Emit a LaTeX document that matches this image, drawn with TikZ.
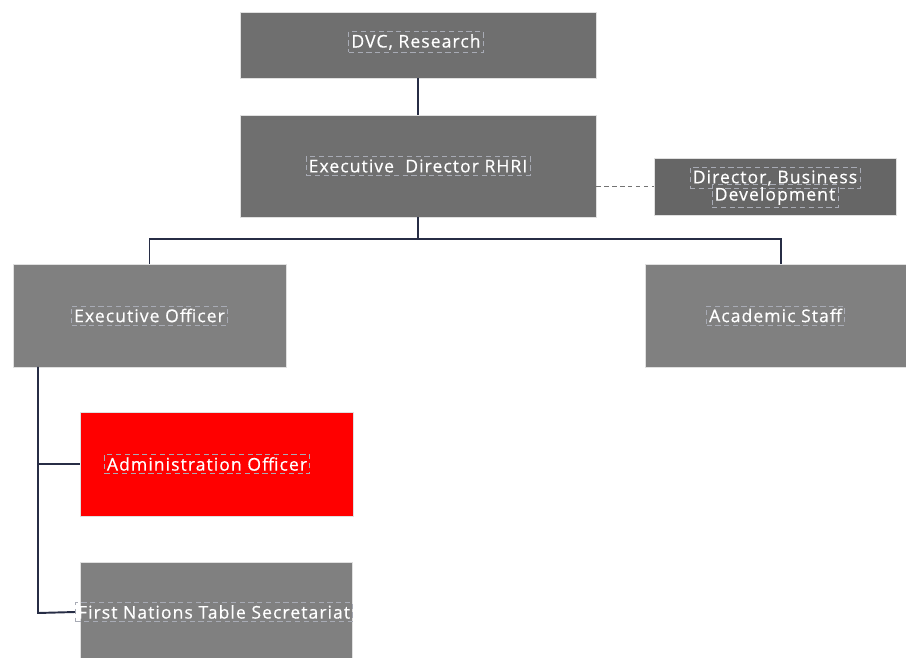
\documentclass[tikz,border=0pt]{standalone}
\usepackage{fontspec}
\setmainfont{Open Sans}[LetterSpace=6,FakeBold=0.5]
\definecolor{topgrey}{HTML}{6F6F6F}
\definecolor{bdgrey}{HTML}{666666}
\definecolor{midgrey}{HTML}{808080}
\definecolor{linkcol}{HTML}{272D45}
\definecolor{framecol}{HTML}{A8ABB5}
\begin{document}
\begin{tikzpicture}[x=0.02cm,y=-0.02cm,
    unit/.style={rectangle, draw=black!12, line width=0.5pt, inner sep=0pt},
    lbl/.style={draw=framecol, dashed, dash pattern=on 3pt off 2pt, line width=0.4pt,
      text=white, inner sep=1.5pt, font=\fontsize{10}{11}\selectfont},
    link/.style={draw=linkcol, line width=1.1pt},
    dotlink/.style={draw=black!55, dashed, dash pattern=on 2.5pt off 2pt, line width=0.8pt}]
    \useasboundingbox (0,0) rectangle (906,658);

    \node[unit, fill=topgrey, minimum width=356*0.02cm, minimum height=66*0.02cm] (dvc) at (418,45) {};
    \node[unit, fill=topgrey, minimum width=356*0.02cm, minimum height=102*0.02cm] (edir) at (418,166) {};
    \node[unit, fill=bdgrey, minimum width=242*0.02cm, minimum height=57*0.02cm] (dbd) at (775,186.5) {};
    \node[unit, fill=midgrey, minimum width=273*0.02cm, minimum height=103*0.02cm] (exo) at (149.5,315.5) {};
    \node[unit, fill=midgrey, minimum width=261*0.02cm, minimum height=103*0.02cm] (acs) at (775.5,315.5) {};
    \node[unit, fill=red, minimum width=273*0.02cm, minimum height=104*0.02cm] (admin) at (216.5,464) {};
    \node[unit, fill=midgrey, minimum width=272*0.02cm, minimum height=100*0.02cm] (fnts) at (216,612) {};

    \node[lbl] (dvc-t) at (416,42) {DVC, Research};
    \node[lbl] (edir-t) at (edir) {Executive\ \ Director RHRI};
    \node[lbl] (dbd-t1) at (775,178) {Director, Business};
    \node[lbl] (dbd-t2) at (775,196) {Development};
    \node[lbl] (exo-t) at (exo) {Executive Officer};
    \node[lbl] (acs-t) at (acs) {Academic Staff};
    \node[lbl] (admin-t) at (207,464) {Administration Officer};
    \node[lbl, anchor=west] (fnts-t) at (75,612) {First Nations Table Secretariat};

    \coordinate (split) at (418,239);
    \coordinate (acs-top) at (781,264);
    \coordinate (exo-drop) at (38,367);
    \coordinate (exo-end) at (38,613);

    \draw[link] (dvc.south) -- (edir.north);
    \draw[link] (edir.south) -- (split);
    \draw[link] (exo.north) |- (split) -| (acs-top);
    \draw[dotlink] (edir.east |- dbd.west) -- (dbd.west);
    \draw[link] (exo-drop) -- (exo-end) -- (fnts-t.west);
    \draw[link] (exo-drop |- admin.west) -- (admin.west);
\end{tikzpicture}
\end{document}
